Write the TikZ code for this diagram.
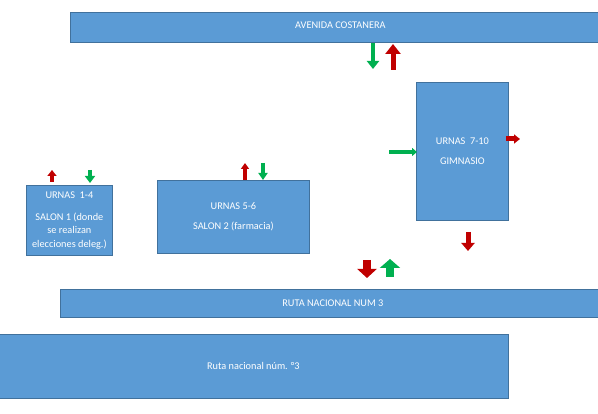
\documentclass[tikz,border=0pt]{standalone}
\usepackage{fontspec}
\setmainfont{Carlito}
\usetikzlibrary{arrows.meta}
\definecolor{boxblue}{HTML}{5B9BD5}
\definecolor{boxline}{HTML}{41719C}
\definecolor{goarrow}{HTML}{00B050}
\definecolor{backarrow}{HTML}{C00000}

\tikzset{
  block/.style={fill=boxblue, draw=boxline, line width=0.8pt, text=white,
    anchor=north west, inner sep=0, align=center,
    font=\fontsize{10.3}{13.5}\selectfont},
  % block arrows: #1 shaft, #2 head width, #3 head length
  green arrow/.style n args={3}{draw=goarrow, line width=#1,
    -{Triangle[width=#2, length=#3]}},
  red arrow/.style n args={3}{draw=backarrow, line width=#1,
    -{Triangle[width=#2, length=#3]}},
}

\begin{document}
\begin{tikzpicture}[x=1pt, y=-1pt]
    \useasboundingbox (0,0) rectangle (598,414);
    \clip (0,0) rectangle (598,414);

    % calles
    \node[block, minimum width=540, minimum height=30] (avenida) at (70,12) {\raisebox{4pt}{AVENIDA COSTANERA}};
    \node[block, minimum width=545, minimum height=28] (ruta) at (60,289) {RUTA NACIONAL NUM 3};
    \node[block, minimum width=510, minimum height=64] (rutabaja) at (-2,334) {Ruta nacional núm. °3};

    % edificios
    \node[block, minimum width=86, minimum height=70] (salon1) at (26,185)
        {URNAS\ \ 1-4\\[8pt] SALON 1 (donde\\ se realizan\\ elecciones deleg.)};
    \node[block, minimum width=152, minimum height=73] (salon2) at (157,180)
        {URNAS 5-6\\[7pt] SALON 2 (farmacia)};
    \node[block, minimum width=92, minimum height=138] (gimnasio) at (416,82)
        {URNAS\ \ 7-10\\[7pt] GIMNASIO};

    % entradas y salidas
    \draw[green arrow={4.5pt}{12pt}{8pt}] (373,43) -- (373,69);
    \draw[red arrow={5pt}{15pt}{10pt}] (393,70) -- (393,44);

    \draw[red arrow={4pt}{9pt}{6pt}] (52,182) -- (52,170);
    \draw[green arrow={4pt}{10pt}{7pt}] (90,170) -- (90,183);

    \draw[red arrow={4pt}{8pt}{6pt}] (245,180) -- (245,163);
    \draw[green arrow={4pt}{9pt}{7pt}] (263,163) -- (263,180);

    \draw[green arrow={4pt}{8pt}{5pt}] (389,152) -- (417,152);
    \draw[red arrow={5pt}{9pt}{6pt}] (506,139) -- (520,139);
    \draw[red arrow={5pt}{13pt}{8pt}] (468,232) -- (468,251);

    \draw[red arrow={8pt}{19pt}{9pt}] (367,260) -- (367,278);
    \draw[green arrow={8pt}{20pt}{9pt}] (390,277) -- (390,259);
\end{tikzpicture}
\end{document}
